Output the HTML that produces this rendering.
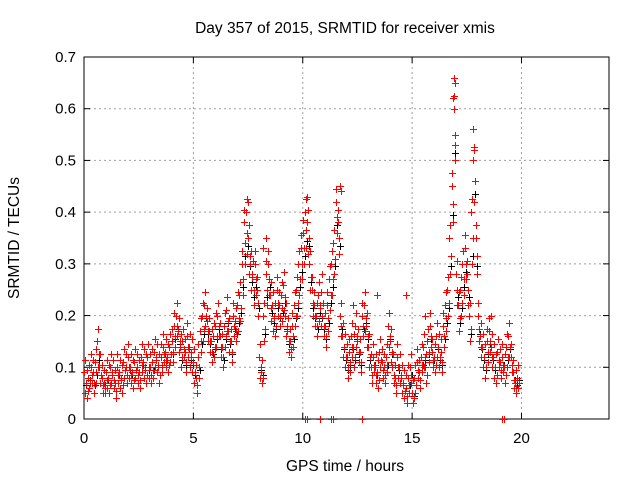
<!DOCTYPE html>
<html><head><meta charset="utf-8"><style>
body{margin:0;background:#fff;}
svg{display:block;font-family:"Liberation Sans",sans-serif;}
</style></head><body>
<svg id="chart" width="640" height="480" viewBox="0 0 640 480">
<rect width="640" height="480" fill="#fff"/>
<text x="345" y="33" font-size="15.5" text-anchor="middle">Day 357 of 2015, SRMTID for receiver xmis</text>
<g id="grid"></g>
<g id="axes"></g>
<g id="marks"></g>
<text x="345" y="471" font-size="15.5" text-anchor="middle">GPS time / hours</text>
<text transform="translate(19,238) rotate(-90)" font-size="15.5" text-anchor="middle">SRMTID / TECUs</text>
</svg>
<script>
const xTicks=[0,5,10,15,20];
const yTicks=[0,0.1,0.2,0.3,0.4,0.5,0.6,0.7];
const yTickLabels=["0","0.1","0.2","0.3","0.4","0.5","0.6","0.7"];
const tStart=0, tStep=0.1;
const redMain=[.09,.07,.08,.1,.09,.11,.15,.1,.08,.07,
.09,.08,.1,.09,.07,.1,.09,.08,.11,.1,
.12,.1,.09,.11,.1,.09,.12,.11,.1,.12,
.1,.11,.13,.12,.1,.12,.14,.13,.12,.14,
.15,.18,.2,.17,.14,.15,.13,.16,.14,.13,
.11,.08,.12,.17,.2,.22,.19,.17,.15,.16,
.18,.2,.16,.14,.18,.21,.17,.15,.2,.19,
.22,.24,.3,.38,.4,.35,.3,.28,.3,.25,
.12,.09,.2,.28,.3,.24,.22,.2,.25,.22,
.24,.26,.2,.17,.15,.18,.22,.25,.3,.33,
.36,.4,.38,.3,.25,.22,.2,.24,.22,.2,
.18,.22,.27,.3,.34,.42,.38,.2,.16,.14,
.12,.13,.16,.14,.18,.15,.13,.2,.22,.18,
.14,.1,.12,.1,.09,.13,.11,.1,.12,.18,
.15,.1,.08,.12,.1,.08,.07,.06,.08,.1,
.05,.08,.11,.09,.12,.14,.1,.15,.18,.13,
.12,.16,.14,.13,.18,.22,.25,.35,.45,.6,
.28,.22,.25,.3,.33,.28,.2,.4,.5,.35,
.2,.16,.14,.12,.15,.17,.14,.12,.1,.13,
.11,.12,.1,.14,.16,.12,.09,.07,.08];
const redLow=[.05,.04,.06,.07,.05,.07,.1,.07,.05,.05,
.06,.05,.07,.06,.04,.07,.06,.05,.08,.07,
.08,.07,.06,.08,.07,.06,.09,.08,.07,.08,
.07,.08,.1,.09,.07,.09,.11,.1,.09,.11,
.11,.14,.16,.13,.1,.12,.09,.12,.1,.09,
.07,.05,.08,.13,.15,.18,.15,.13,.11,.12,
.14,.16,.12,.1,.14,.17,.13,.11,.16,.15,
.17,.19,.24,.3,.32,.28,.25,.22,.24,.2,
.08,.07,.15,.22,.24,.19,.17,.16,.2,.18,
.19,.21,.16,.13,.12,.14,.18,.2,.24,.27,
.3,.33,.32,.25,.2,.18,.16,.19,.18,.16,
.14,.17,.21,.24,.28,.36,.32,.16,.12,.1,
.08,.09,.12,.1,.14,.11,.09,.16,.17,.14,
.1,.07,.09,.07,.06,.1,.08,.07,.09,.14,
.11,.07,.05,.08,.07,.05,.04,.03,.05,.07,
.03,.05,.08,.06,.09,.1,.07,.11,.14,.1,
.09,.12,.1,.09,.14,.17,.2,.28,.38,.5,
.22,.17,.2,.24,.27,.22,.15,.3,.42,.28,
.15,.12,.1,.08,.11,.13,.1,.08,.07,.1,
.08,.09,.07,.1,.12,.09,.06,.05,.06];
const extraX=[7.5,10.2,11.7,16.85,16.9,16.95,17.8,17.85,16.95,11.75,8.3,8.2,10.9,12.3,13.4,14.7,15.6,18.6];
const extraY=[.42,.43,.45,.62,.66,.65,.56,.52,.53,.44,.35,.33,.28,.22,.24,.24,.2,.2];
const zeroX=[10.1,10.2,10.8,11.3,11.4,12.7,19.1,19.2];

const L=84,R=609,T=57,B=419,xMax=24,yMax=0.7;
const xs=v=>L+(v/xMax)*(R-L);
const ys=v=>B-(v/yMax)*(B-T);
const NS="http://www.w3.org/2000/svg";
function mk(tag,parent){const e=document.createElementNS(NS,tag);parent.appendChild(e);return e;}
const grid=document.getElementById('grid'),axes=document.getElementById('axes'),marks=document.getElementById('marks');

xTicks.forEach(t=>{
  const x=xs(t);
  if(t>0){const g=mk('line',grid);
  
  
  g.setAttribute('x1',x);g.setAttribute('x2',x);g.setAttribute('y1',T);g.setAttribute('y2',B);
  g.setAttribute('stroke','#a0a0a0');g.setAttribute('stroke-dasharray','2,3');}
  const lb=mk('text',axes);
  
  
  lb.setAttribute('x',x);lb.setAttribute('y',443);lb.setAttribute('font-size','15');lb.setAttribute('text-anchor','middle');
  lb.textContent=t;
  [[B,B-6],[T,T+6]].forEach(p=>{const k=mk('line',axes);
  
  
  k.setAttribute('x1',x);k.setAttribute('x2',x);k.setAttribute('y1',p[0]);k.setAttribute('y2',p[1]);k.setAttribute('stroke','#000');});
});
yTicks.forEach((t,i)=>{
  const y=ys(t);
  if(t>0&&t<yMax){const g=mk('line',grid);
  
  
  g.setAttribute('x1',L);g.setAttribute('x2',R);g.setAttribute('y1',y);g.setAttribute('y2',y);
  g.setAttribute('stroke','#a0a0a0');g.setAttribute('stroke-dasharray','2,3');}
  const lb=mk('text',axes);
  
  
  lb.setAttribute('x',L-8);lb.setAttribute('y',y+5);lb.setAttribute('font-size','15');lb.setAttribute('text-anchor','end');
  lb.textContent=yTickLabels[i];
  [[L,L+6],[R,R-6]].forEach(p=>{const k=mk('line',axes);
  
  
  k.setAttribute('x1',p[0]);k.setAttribute('x2',p[1]);k.setAttribute('y1',y);k.setAttribute('y2',y);k.setAttribute('stroke','#000');});
});
const fr=mk('rect',axes);


fr.setAttribute('x',L);fr.setAttribute('y',T);fr.setAttribute('width',R-L);fr.setAttribute('height',B-T);
fr.setAttribute('fill','none');fr.setAttribute('stroke','#000');

function plus(t,v,color,name){
  const x=Math.round(xs(t))+0.5,y=Math.round(ys(v))+0.5;
  const p=mk('path',marks);
  
  
  p.setAttribute('d',`M${x-3.5},${y}H${x+3.5}M${x},${y-3.5}V${y+3.5}`);
  p.setAttribute('stroke',color);p.setAttribute('stroke-width','1');
}
redLow.forEach((v,i)=>plus(tStart+i*tStep+0.08,v+0.015,'#000','black-point'));
redMain.forEach((v,i)=>plus(tStart+i*tStep,v,'#f00','red-point'));
redLow.forEach((v,i)=>plus(tStart+i*tStep+0.05,v,'#f00','red-point'));
redMain.forEach((v,i)=>plus(tStart+i*tStep+0.07,(v+redLow[i])/2,'#f00','red-point'));
redMain.forEach((v,i)=>plus(tStart+i*tStep+0.03,v+0.025,'#f00','red-point'));
extraX.forEach((t,i)=>plus(t,extraY[i],'#f00','red-point'));
zeroX.forEach(t=>plus(t,0,'#f00','red-zero-point'));
</script>
</body></html>
